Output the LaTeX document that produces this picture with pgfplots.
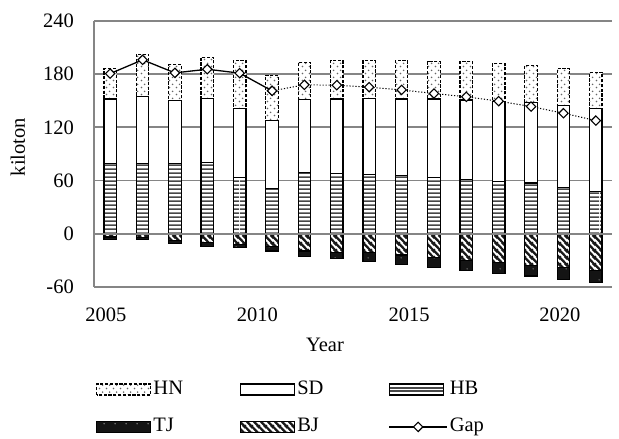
\documentclass[border=0pt]{standalone}
\usepackage{fontspec}
\setmainfont{Liberation Serif}
\usepackage{pgfplots}
\usepackage{pgfplotstable}
\pgfplotsset{compat=1.18}
\usetikzlibrary{patterns.meta}

\newcommand\chartfont{\fontsize{20.5bp}{24bp}\selectfont}

\tikzdeclarepattern{
  name=hndots, type=uncolored,
  bottom left={(0bp,0bp)}, top right={(7bp,7bp)}, tile size={(7bp,7bp)},
  code={\fill (1.7bp,1.7bp) circle (0.95bp); \fill (5.2bp,5.2bp) circle (0.95bp);}
}
\tikzdeclarepattern{
  name=hblines, type=uncolored,
  bottom left={(0bp,0bp)}, top right={(120bp,3.6bp)}, tile size={(120bp,3.6bp)},
  code={\fill (0bp,0bp) rectangle (120bp,1.9bp);}
}
\tikzdeclarepattern{
  name=bjlines, type=uncolored,
  bottom left={(0bp,0bp)}, top right={(7bp,7bp)}, tile size={(7bp,7bp)},
  code={
    \draw[line width=2.5bp] (-1bp,8bp) -- (8bp,-1bp);
    \draw[line width=2.5bp] (-3bp,3bp) -- (3bp,-3bp);
    \draw[line width=2.5bp] (4bp,10bp) -- (10bp,4bp);
  }
}
\tikzdeclarepattern{
  name=tjdots, type=uncolored,
  bottom left={(0bp,0bp)}, top right={(11bp,11bp)}, tile size={(11bp,11bp)},
  code={\fill (5.5bp,5.5bp) circle (0.7bp);}
}

\pgfplotsset{
  frame/.style={scale only axis, width=518bp, height=266bp,
    xmin=2004.5, xmax=2020.5, ymin=-60, ymax=240, enlargelimits=false,
    at={(94bp,152bp)}, anchor=south west},
  barbase/.style={draw=black, line width=1.2bp},
  hnbar/.style={barbase, dash pattern=on 3.2bp off 1.6bp, preaction={fill=white}, pattern=hndots, pattern color=black!60},
  sdbar/.style={barbase, fill=white},
  hbbar/.style={barbase, preaction={fill=white}, pattern=hblines, pattern color=black!72},
  tjbar/.style={barbase, fill=black!92, postaction={pattern=tjdots, pattern color=black!40}},
  bjbar/.style={barbase, preaction={fill=white}, pattern=bjlines, pattern color=black!90},
  rectlegend/.style={legend image code/.code={\draw[##1] (0bp,-5.5bp) rectangle (54bp,5.5bp);}},
  linelegend/.style={legend image code/.code={\draw[mark repeat=2,mark phase=2,##1] plot coordinates {(0bp,0bp) (29bp,0bp) (58bp,0bp)};}},
  gapline/.style={black, line width=1.3bp, mark=square*, mark size=3.3bp,
    mark options={rotate=45, fill=white, draw=black, solid, line width=1.1bp}},
}

\pgfplotstableread{
year HB SD HN BJ TJ
2005 79.3 72.7 34.0 -3.5 -2.5
2006 78.9 75.9 47.8 -4.0 -2.7
2007 79.3 71.4 39.8 -7.5 -3.0
2008 80.0 72.2 47.0 -10.0 -4.5
2009 63.9 77.4 53.7 -12.0 -3.8
2010 51.5 76.7 50.7 -14.7 -4.8
2011 69.1 82.7 41.4 -19.5 -5.7
2012 68.4 83.6 43.0 -21.4 -6.8
2013 66.9 85.6 42.5 -21.4 -9.4
2014 65.8 86.2 43.0 -24.0 -10.2
2015 63.5 88.5 42.3 -27.0 -10.6
2016 61.2 89.8 42.9 -29.7 -11.3
2017 59.0 90.6 42.4 -32.7 -11.7
2018 57.2 90.8 41.8 -35.7 -12.0
2019 52.6 92.5 40.9 -38.3 -13.2
2020 48.1 93.6 40.6 -41.3 -13.9
}\bars

\pgfplotstableread{
year Gap
2005 180.7
2006 196.2
2007 181.5
2008 185.6
2009 181.2
2010 161.2
}\gapA

\pgfplotstableread{
year Gap
2010 161.2
2011 168.0
2012 167.6
2013 165.4
2014 162.3
2015 158.2
2016 154.5
2017 149.6
2018 143.5
2019 136.0
2020 127.7
}\gapB

\begin{document}
\begin{tikzpicture}
\useasboundingbox (0,0) rectangle (619bp,439bp);
% base axis: grid, ticks, labels
\begin{axis}[frame,
  axis x line*=bottom, axis y line*=left,
  x axis line style={draw=none},
  y axis line style={draw=black!48, line width=1.8bp},
  ymajorgrids, grid style={draw=black!48, line width=1.8bp},
  ytick={-60,0,60,120,180,240},
  xtick={2004.87,2009.55,2014.23,2018.89},
  xticklabels={2005,2010,2015,2020},
  major tick length=0pt,
  /pgf/number format/assume math mode=true,
  tick label style={font=\chartfont},
  yticklabel style={anchor=east, inner sep=0pt, xshift=-20bp},
  xticklabel style={anchor=north, inner sep=0pt, yshift=-21bp},
  xlabel={Year}, ylabel={kiloton},
  label style={font=\chartfont},
  xlabel style={at={(axis description cs:0.446,-0.218)}, anchor=center},
  ylabel style={at={(axis description cs:-0.147,0.526)}, anchor=center},
]
\end{axis}
% positive stack
\begin{axis}[frame, hide axis, ybar stacked, bar width=12.5bp]
\addplot[hbbar] table[x=year,y=HB] {\bars};
\addplot[sdbar] table[x=year,y=SD] {\bars};
\addplot[hnbar] table[x=year,y=HN] {\bars};
\end{axis}
% negative stack
\begin{axis}[frame, hide axis, ybar stacked, bar width=12.5bp]
\addplot[bjbar] table[x=year,y=BJ] {\bars};
\addplot[tjbar] table[x=year,y=TJ] {\bars};
\end{axis}
% zero line, gap line, legend
\begin{axis}[frame, hide axis, clip=false,
  legend columns=3,
  legend cell align=left,
  legend style={draw=none, fill=none, font=\chartfont,
    at={(axis description cs:0.004,-0.342)}, anchor=north west,
    inner sep=0pt, row sep=15bp,
    nodes={inner sep=2bp, text height=14bp, text depth=4.5bp},
    /tikz/column 2/.style={column sep=55bp},
    /tikz/column 4/.style={column sep=63bp}},
]
\draw[draw=black!48, line width=1.8bp] (axis cs:2004.5,0) -- (axis cs:2020.5,0);
\addlegendimage{hnbar, rectlegend}
\addlegendimage{sdbar, rectlegend}
\addlegendimage{hbbar, rectlegend}
\addlegendimage{tjbar, rectlegend}
\addlegendimage{bjbar, rectlegend}
\addplot[gapline, linelegend] table[x=year,y=Gap] {\gapA};
\addplot[gapline, line width=1bp, dash pattern=on 1.2bp off 1.8bp, forget plot] table[x=year,y=Gap] {\gapB};
\legend{HN,SD,HB,TJ,BJ,Gap}
\end{axis}
\end{tikzpicture}
\end{document}
